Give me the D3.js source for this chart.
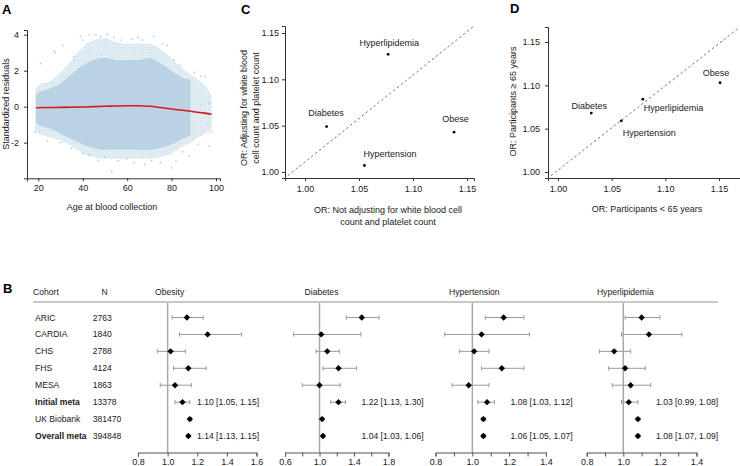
<!DOCTYPE html>
<html><head><meta charset="utf-8">
<script src="https://cdn.jsdelivr.net/npm/d3@7"></script>
<style>
body{margin:0;background:#fff;}
svg{display:block;font-family:"Liberation Sans",Arial,sans-serif;}
</style></head><body>
<svg id="chart" width="740" height="466"></svg>
<script>
// ---------------- DATA ----------------
// Panel A: residual cloud envelope
const cloudAge  = [18.5, 20, 25, 30, 35, 40, 45, 50, 55, 60, 65, 70, 75, 80, 85, 88.5, 92, 95, 98];
const outerHigh = [0.9, 1.2, 1.4, 1.9, 2.6, 3.3, 3.7, 3.8, 3.6, 3.5, 3.5, 3.5, 3.2, 2.7, 2.1, 1.8, 1.5, 1.2, 0.6];
const outerLow  = [-1.4, -1.5, -1.7, -1.9, -2.2, -2.6, -2.8, -2.9, -2.9, -2.9, -2.9, -2.9, -2.8, -2.6, -2.2, -2.0, -1.7, -1.5, -1.3];
const coreAge   = [19, 20, 25, 30, 35, 40, 45, 50, 55, 60, 65, 70, 75, 80, 85, 88.5];
const coreHigh  = [0.6, 0.8, 1.0, 1.3, 1.8, 2.3, 2.6, 2.7, 2.6, 2.6, 2.6, 2.7, 2.4, 2.0, 1.6, 1.5];
const coreLow   = [-0.9, -1.0, -1.2, -1.5, -1.8, -2.1, -2.3, -2.4, -2.4, -2.4, -2.4, -2.4, -2.3, -2.1, -1.8, -1.6];
const outlierAge = [21, 27, 27.5, 31, 36, 39, 40, 43, 46, 48, 51, 54, 57, 62, 65, 67, 72, 76, 78, 81, 84, 90, 93, 95,
                    18.5, 24, 30, 35, 40, 43, 47, 50, 53, 56, 60, 63, 68, 71, 75, 80, 82, 85, 88, 92, 97, 98, 96, 97];
const outlierRes = [2.4, 3.1, 3.0, 3.4, 2.8, 3.9, 3.7, 4.0, 4.0, 3.9, 4.0, 3.85, 3.7, 3.75, 3.85, 3.7, 3.9, 3.5, 3.4, 2.6, 2.3, 1.9, 1.7, 1.65,
                    -1.4, -1.9, -2.0, -2.3, -2.6, -2.7, -3.0, -2.8, -3.6, -3.0, -2.9, -3.1, -3.2, -3.0, -3.1, -3.4, -3.0, -2.5, -2.75, -2.1, -2.2, -1.4, -1.0, 0.2];
const loessAge = [19, 25, 30, 40, 50, 60, 65, 70, 75, 80, 85, 90, 95, 98];
const loessVal = [-0.06, -0.05, -0.04, -0.02, 0.02, 0.05, 0.05, 0.02, -0.05, -0.13, -0.2, -0.28, -0.36, -0.42];
const ageTicks = [20, 40, 60, 80, 100];
const resTicks = [-2, 0, 2, 4];

// Panels C & D
const traits = ["Obese", "Diabetes", "Hypertension", "Hyperlipidemia"];
const cNotAdj = [1.138, 1.020, 1.055, 1.077];
const cAdj    = [1.043, 1.049, 1.007, 1.127];
const dUnder65 = [1.151, 1.031, 1.059, 1.079];
const dOver65  = [1.103, 1.068, 1.059, 1.084];
const orTicks = [1.00, 1.05, 1.10, 1.15];

// Panel B: forest plot
const cohorts = ["ARIC", "CARDIA", "CHS", "FHS", "MESA", "Initial meta", "UK Biobank", "Overall meta"];
const cohortN = [2763, 1840, 2788, 4124, 1863, 13378, 381470, 394848];
const boldRows = ["Initial meta", "Overall meta"];
const outcomes = ["Obesity", "Diabetes", "Hypertension", "Hyperlipidemia"];
const obesityOR = [1.13, 1.27, 1.02, 1.14, 1.05, 1.10, 1.15, 1.14];
const obesityLo = [1.03, 1.08, 0.93, 1.04, 0.95, 1.05, 1.14, 1.13];
const obesityHi = [1.24, 1.50, 1.12, 1.26, 1.16, 1.15, 1.16, 1.15];
const diabetesOR = [1.49, 1.02, 1.09, 1.22, 1.00, 1.22, 1.03, 1.04];
const diabetesLo = [1.31, 0.70, 0.96, 1.04, 0.80, 1.13, 1.02, 1.03];
const diabetesHi = [1.69, 1.48, 1.23, 1.43, 1.24, 1.30, 1.05, 1.06];
const hypertensionOR = [1.17, 1.05, 1.01, 1.16, 0.98, 1.08, 1.06, 1.06];
const hypertensionLo = [1.07, 0.85, 0.93, 1.05, 0.89, 1.03, 1.05, 1.05];
const hypertensionHi = [1.28, 1.31, 1.09, 1.28, 1.09, 1.12, 1.07, 1.07];
const hyperlipidemiaOR = [1.10, 1.14, 0.95, 1.01, 1.04, 1.03, 1.08, 1.08];
const hyperlipidemiaLo = [1.01, 0.99, 0.87, 0.92, 0.94, 0.99, 1.07, 1.07];
const hyperlipidemiaHi = [1.20, 1.32, 1.04, 1.12, 1.15, 1.08, 1.09, 1.09];
const obesityTicks = [0.8, 1.0, 1.2, 1.4, 1.6];
const obesityLabels = [0.8, 1.0, 1.2, 1.4, 1.6];
const diabetesTicks = [0.6, 0.8, 1.0, 1.2, 1.4, 1.6, 1.8];
const diabetesLabels = [0.6, 1.0, 1.4, 1.8];
const htTicks = [0.8, 0.9, 1.0, 1.1, 1.2, 1.3, 1.4];
const htLabels = [0.8, 1.0, 1.2, 1.4];

// ---------------- DRAW ----------------
const svg = d3.select("#chart");
const TXT = "#1a1a1a", AX = "#333";
const FS = 9;

function styleAxis(g) {
  g.selectAll("path.domain").attr("stroke", AX).attr("stroke-width", 1);
  g.selectAll(".tick line").attr("stroke", AX);
  g.selectAll(".tick text").attr("fill", TXT).attr("font-size", FS).attr("font-family", null);
}
function panelLetter(t, x, y) {
  svg.append("text").attr("x", x).attr("y", y).text(t)
    .attr("font-weight", "bold").attr("font-size", 13).attr("fill", "#000");
}

// ===== Panel A =====
panelLetter("A", 2, 14);
const xA = d3.scaleLinear().domain([14.9, 101.8]).range([27, 220]);
const yA = d3.scaleLinear().domain([-3.98, 4.26]).range([178.3, 30]);
const cloudCol = "#b9d3e4";
const defs = svg.append("defs");
const pat = defs.append("pattern").attr("id", "speck").attr("width", 2.6).attr("height", 2.6)
  .attr("patternUnits", "userSpaceOnUse");
pat.append("circle").attr("cx", 0.7).attr("cy", 0.7).attr("r", 0.75).attr("fill", "#b3cfe1");
pat.append("circle").attr("cx", 2.0).attr("cy", 2.0).attr("r", 0.6).attr("fill", "#b3cfe1");
const outerArea = d3.area().curve(d3.curveMonotoneX)
  .x((d, i) => xA(cloudAge[i])).y0((d, i) => yA(outerLow[i])).y1((d, i) => yA(outerHigh[i]));
svg.append("path").attr("d", outerArea(cloudAge)).attr("fill", "url(#speck)");
const coreArea = d3.area().curve(d3.curveMonotoneX)
  .x((d, i) => xA(coreAge[i])).y0((d, i) => yA(coreLow[i])).y1((d, i) => yA(coreHigh[i]));
svg.append("path").attr("d", coreArea(coreAge)).attr("fill", cloudCol);
svg.append("g").selectAll("circle").data(outlierAge).join("circle")
  .attr("cx", (d) => xA(d)).attr("cy", (d, i) => yA(outlierRes[i])).attr("r", 0.9).attr("fill", "#b3cfe1");
const band = d3.area().curve(d3.curveMonotoneX)
  .x((d, i) => xA(loessAge[i])).y0((d, i) => yA(loessVal[i] - 0.07)).y1((d, i) => yA(loessVal[i] + 0.07));
svg.append("path").attr("d", band(loessAge)).attr("fill", "#c9c9c9").attr("opacity", 0.55);
const lo = d3.line().curve(d3.curveMonotoneX).x((d, i) => xA(loessAge[i])).y((d, i) => yA(loessVal[i]));
svg.append("path").attr("d", lo(loessAge)).attr("fill", "none").attr("stroke", "#d7191c").attr("stroke-width", 1.6);
const gAx = svg.append("g").attr("transform", "translate(0,178.3)")
  .call(d3.axisBottom(xA).tickValues(ageTicks).tickSizeOuter(0).tickSize(3).tickPadding(3));
styleAxis(gAx);
const gAy = svg.append("g").attr("transform", "translate(27,0)")
  .call(d3.axisLeft(yA).tickValues(resTicks).tickFormat(d => String(d)).tickSizeOuter(0).tickSize(3).tickPadding(5));
styleAxis(gAy);
svg.append("text").attr("x", 112).attr("y", 207).attr("text-anchor", "middle").attr("dominant-baseline", "central")
  .attr("font-size", FS).attr("fill", TXT).text("Age at blood collection");
svg.append("text").attr("transform", "translate(6,104) rotate(-90)").attr("text-anchor", "middle")
  .attr("dominant-baseline", "central").attr("font-size", FS).attr("fill", TXT).text("Standardized residuals");

// ===== Scatter panels C & D =====
function scatterPanel(cfg) {
  const x = d3.scaleLinear().domain(cfg.xd).range(cfg.xr);
  const y = d3.scaleLinear().domain(cfg.yd).range(cfg.yr);
  // corner-to-corner dashed reference line
  const t0 = 0.015, t1 = 0.995;
  const lx = t => cfg.xd[0] + t * (cfg.xd[1] - cfg.xd[0]);
  const ly = t => cfg.yd[0] + t * (cfg.yd[1] - cfg.yd[0]);
  svg.append("line").attr("x1", x(lx(t0))).attr("y1", y(ly(t0))).attr("x2", x(lx(t1))).attr("y2", y(ly(t1)))
    .attr("stroke", "#777").attr("stroke-width", 1).attr("stroke-dasharray", "2.5,2.5");
  const gx = svg.append("g").attr("transform", `translate(0,${cfg.yr[0]})`)
    .call(d3.axisBottom(x).tickValues(orTicks).tickFormat(d3.format(".2f")).tickSizeOuter(0).tickSize(3).tickPadding(5));
  styleAxis(gx);
  const gy = svg.append("g").attr("transform", `translate(${cfg.xr[0]},0)`)
    .call(d3.axisLeft(y).tickValues(orTicks).tickFormat(d3.format(".2f")).tickSizeOuter(0).tickSize(3).tickPadding(cfg.ypad));
  styleAxis(gy);
  const g = svg.append("g");
  traits.forEach((t, i) => {
    const px = x(cfg.xv[i]), py = y(cfg.yv[i]);
    g.append("circle").attr("cx", px).attr("cy", py).attr("r", 1.4).attr("fill", "#000");
    const o = cfg.lab[i];
    g.append("text").attr("x", px + o[0]).attr("y", py + o[1]).attr("text-anchor", o[2])
      .attr("dominant-baseline", "central").attr("font-size", FS).attr("fill", TXT).text(t);
  });
}
panelLetter("C", 241, 14);
scatterPanel({
  xd: [0.98148, 1.15648], xr: [285, 474], yd: [0.99353, 1.15755], yr: [178, 26], ypad: 3,
  xv: cNotAdj, yv: cAdj,
  lab: [[1.5, -13.5, "middle"], [-0.5, -13.5, "middle"], [-1, -11.5, "start"], [1, -11, "middle"]]
});
svg.append("text").attr("transform", "translate(244,108) rotate(-90)").attr("text-anchor", "middle")
  .attr("dominant-baseline", "central").attr("font-size", FS).attr("fill", TXT).text("OR: Adjusting for white blood");
svg.append("text").attr("transform", "translate(255.5,108) rotate(-90)").attr("text-anchor", "middle")
  .attr("dominant-baseline", "central").attr("font-size", FS).attr("fill", TXT).text("cell count and platelet count");
svg.append("text").attr("x", 388).attr("y", 210).attr("text-anchor", "middle").attr("dominant-baseline", "central")
  .attr("font-size", FS).attr("fill", TXT).text("OR: Not adjusting for white blood cell");
svg.append("text").attr("x", 388).attr("y", 221.5).attr("text-anchor", "middle").attr("dominant-baseline", "central")
  .attr("font-size", FS).attr("fill", TXT).text("count and platelet count");

panelLetter("D", 510, 13);
scatterPanel({
  xd: [0.99068, 1.16957], xr: [548, 740], yd: [0.99308, 1.1673], yr: [178, 27], ypad: 5,
  xv: dUnder65, yv: dOver65,
  lab: [[-4, -9.7, "middle"], [-2, -7.5, "middle"], [1.5, 11.7, "start"], [1, 8.7, "start"]]
});
svg.append("text").attr("transform", "translate(513,101.5) rotate(-90)").attr("text-anchor", "middle")
  .attr("dominant-baseline", "central").attr("font-size", FS).attr("fill", TXT).text("OR: Participants \u2265 65 years");
svg.append("text").attr("x", 647).attr("y", 209).attr("text-anchor", "middle").attr("dominant-baseline", "central")
  .attr("font-size", FS).attr("fill", TXT).text("OR: Participants < 65 years");

// ===== Panel B: forest =====
panelLetter("B", 3, 293);
const FSB = 8.6;
const rowY = d3.scalePoint().domain(cohorts).range([317.5, 436]);
const headerY = 291.5, lineY = 302, axisY = 452.5;
svg.append("line").attr("x1", 33).attr("x2", 718).attr("y1", lineY).attr("y2", lineY)
  .attr("stroke", "#c8c8c8").attr("stroke-width", 2);
svg.append("text").attr("x", 33).attr("y", headerY).attr("dominant-baseline", "central")
  .attr("font-size", FSB).attr("fill", TXT).text("Cohort");
svg.append("text").attr("x", 104.5).attr("y", headerY).attr("text-anchor", "middle").attr("dominant-baseline", "central")
  .attr("font-size", FSB).attr("fill", TXT).text("N");
const gRows = svg.append("g");
cohorts.forEach((c, i) => {
  const b = boldRows.includes(c);
  gRows.append("text").attr("x", 35).attr("y", rowY(c)).attr("dominant-baseline", "central")
    .attr("font-size", FSB).attr("font-weight", b ? "bold" : "normal").attr("fill", TXT).text(c);
  gRows.append("text").attr("x", 92.7).attr("y", rowY(c)).attr("dominant-baseline", "central")
    .attr("font-size", FSB).attr("fill", TXT).text(cohortN[i]);
});
const forestPanels = [
  { name: outcomes[0], or: obesityOR, lo: obesityLo, hi: obesityHi, d: [0.8, 1.6], r: [138, 256.5], ticks: obesityTicks, labels: obesityLabels, annX: 197 },
  { name: outcomes[1], or: diabetesOR, lo: diabetesLo, hi: diabetesHi, d: [0.6, 1.8], r: [285, 388.5], ticks: diabetesTicks, labels: diabetesLabels, annX: 361.5 },
  { name: outcomes[2], or: hypertensionOR, lo: hypertensionLo, hi: hypertensionHi, d: [0.8, 1.4], r: [435.5, 546], ticks: htTicks, labels: htLabels, annX: 510.5 },
  { name: outcomes[3], or: hyperlipidemiaOR, lo: hyperlipidemiaLo, hi: hyperlipidemiaHi, d: [0.8, 1.4], r: [586.7, 696.5], ticks: htTicks, labels: htLabels, annX: 656 }
];
const f2 = d3.format(".2f");
const marker = d3.symbol(d3.symbolDiamond2, 26)();
forestPanels.forEach(p => {
  const x = d3.scaleLinear().domain(p.d).range(p.r);
  svg.append("text").attr("x", x(1) + 2).attr("y", headerY).attr("text-anchor", "middle").attr("dominant-baseline", "central")
    .attr("font-size", FSB).attr("fill", TXT).text(p.name);
  svg.append("line").attr("x1", x(1)).attr("x2", x(1)).attr("y1", lineY + 1).attr("y2", axisY)
    .attr("stroke", "#a8a8a8").attr("stroke-width", 1.5);
  const ga = svg.append("g").attr("transform", `translate(0,${axisY})`)
    .call(d3.axisBottom(x).tickValues(p.ticks).tickSizeOuter(0).tickSize(4).tickPadding(2)
      .tickFormat(v => p.labels.some(l => Math.abs(l - v) < 1e-9) ? d3.format(".1f")(v) : ""));
  ga.selectAll("path.domain").attr("stroke", "#555");
  ga.selectAll(".tick line").attr("stroke", "#555");
  ga.selectAll(".tick text").attr("fill", TXT).attr("font-size", FS);
  const g = svg.append("g");
  cohorts.forEach((c, i) => {
    const y = rowY(c);
    g.append("line").attr("x1", x(p.lo[i])).attr("x2", x(p.hi[i])).attr("y1", y).attr("y2", y)
      .attr("stroke", "#999").attr("stroke-width", 1);
    [p.lo[i], p.hi[i]].forEach(v => g.append("line").attr("x1", x(v)).attr("x2", x(v)).attr("y1", y - 2.2).attr("y2", y + 2.2)
      .attr("stroke", "#999").attr("stroke-width", 1));
    g.append("path").attr("d", marker).attr("transform", `translate(${x(p.or[i])},${y})`)
      .attr("fill", "#000");
    if (boldRows.includes(c)) {
      g.append("text").attr("x", p.annX).attr("y", y).attr("dominant-baseline", "central")
        .attr("font-size", FSB).attr("fill", TXT).text(`${f2(p.or[i])} [${f2(p.lo[i])}, ${f2(p.hi[i])}]`);
    }
  });
});
</script>
</body></html>
